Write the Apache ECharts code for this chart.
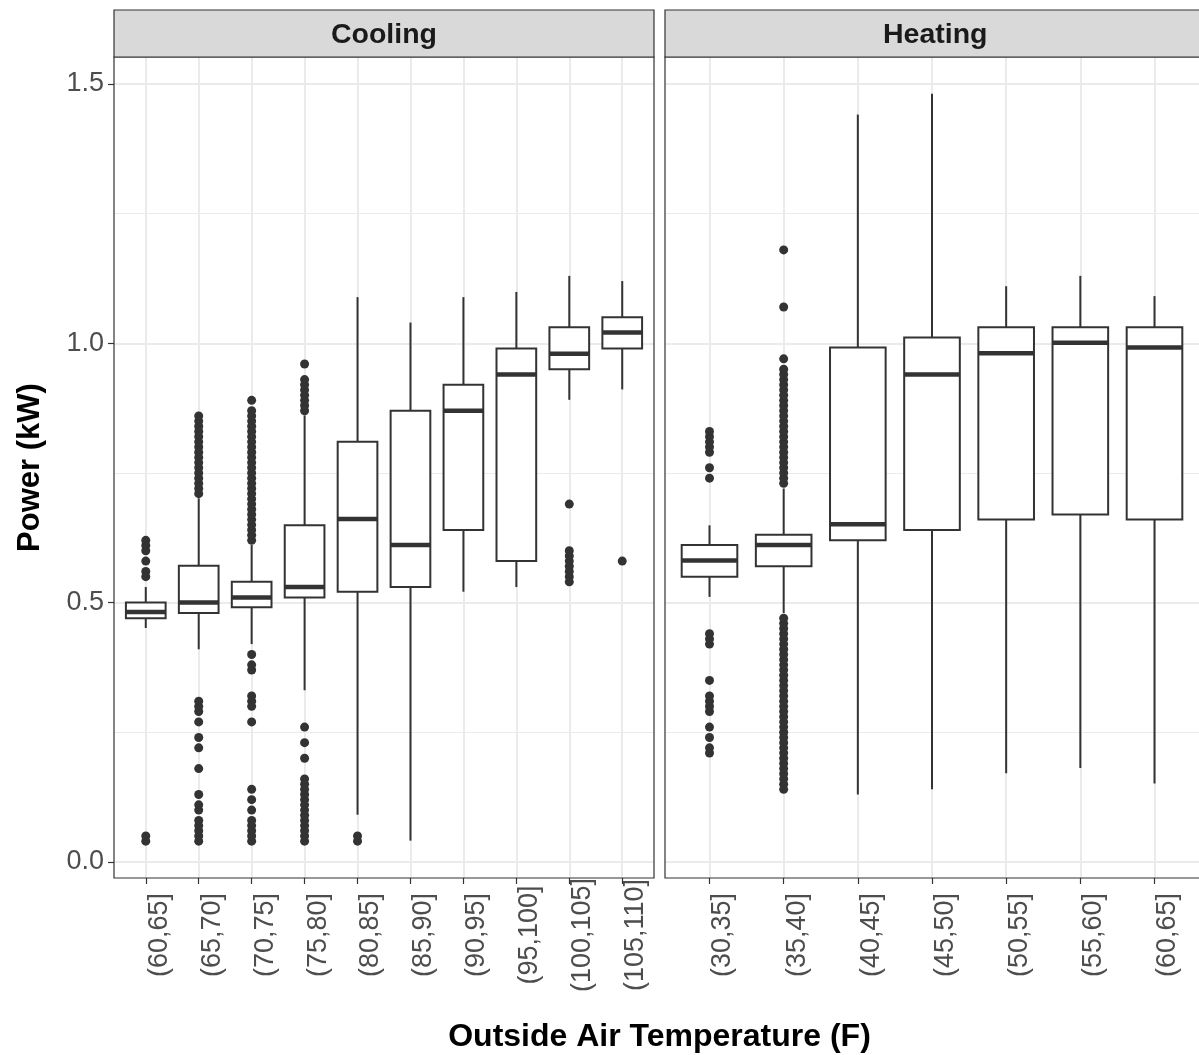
<!DOCTYPE html>
<html><head><meta charset="utf-8">
<script src="https://cdn.jsdelivr.net/npm/echarts@6/dist/echarts.min.js"></script>
<style>html,body{margin:0;padding:0;background:#fff}#c{width:1199px;height:1055px}</style>
</head><body><div id="c"></div>
<script>
const coolingCats = ['(60,65]','(65,70]','(70,75]','(75,80]','(80,85]','(85,90]','(90,95]','(95,100]','(100,105]','(105,110]'];
const heatingCats = ['(30,35]','(35,40]','(40,45]','(45,50]','(50,55]','(55,60]','(60,65]'];
// [lower whisker, Q1, median, Q3, upper whisker]
const coolingBoxes = [
  [0.451, 0.470, 0.482, 0.500, 0.530],
  [0.410, 0.480, 0.500, 0.571, 0.701],
  [0.420, 0.491, 0.510, 0.540, 0.611],
  [0.331, 0.510, 0.530, 0.649, 0.861],
  [0.091, 0.521, 0.661, 0.810, 1.089],
  [0.041, 0.530, 0.611, 0.870, 1.040],
  [0.521, 0.640, 0.870, 0.920, 1.089],
  [0.530, 0.580, 0.940, 0.990, 1.099],
  [0.891, 0.950, 0.980, 1.031, 1.130],
  [0.911, 0.990, 1.021, 1.050, 1.120]
];
const heatingBoxes = [
  [0.511, 0.550, 0.581, 0.611, 0.649],
  [0.480, 0.570, 0.611, 0.631, 0.720],
  [0.130, 0.620, 0.651, 0.992, 1.441],
  [0.140, 0.640, 0.940, 1.011, 1.481],
  [0.171, 0.660, 0.981, 1.031, 1.110],
  [0.181, 0.670, 1.001, 1.031, 1.130],
  [0.151, 0.660, 0.992, 1.031, 1.091]
];
const coolingOutliers = [
  [0.04, 0.05, 0.55, 0.56, 0.58, 0.60, 0.61, 0.62],
  [0.04, 0.05, 0.06, 0.07, 0.08, 0.10, 0.11, 0.13, 0.18, 0.22, 0.24, 0.27, 0.29, 0.30, 0.31,
   0.71, 0.72, 0.73, 0.74, 0.75, 0.76, 0.77, 0.78, 0.79, 0.80, 0.81, 0.82, 0.83, 0.84, 0.85, 0.86],
  [0.04, 0.05, 0.06, 0.07, 0.08, 0.10, 0.12, 0.14, 0.27, 0.30, 0.31, 0.32, 0.37, 0.38, 0.40,
   0.62, 0.63, 0.64, 0.65, 0.66, 0.67, 0.68, 0.69, 0.70, 0.71, 0.72, 0.73, 0.74, 0.75, 0.76,
   0.77, 0.78, 0.79, 0.80, 0.81, 0.82, 0.83, 0.84, 0.85, 0.86, 0.87, 0.89],
  [0.04, 0.05, 0.06, 0.07, 0.08, 0.09, 0.10, 0.11, 0.12, 0.13, 0.14, 0.15, 0.16, 0.20, 0.23, 0.26,
   0.87, 0.88, 0.89, 0.90, 0.91, 0.92, 0.93, 0.96],
  [0.04, 0.05],
  [],
  [],
  [],
  [0.54, 0.55, 0.56, 0.57, 0.58, 0.59, 0.60, 0.69],
  [0.58]
];
const heatingOutliers = [
  [0.21, 0.22, 0.24, 0.26, 0.29, 0.30, 0.31, 0.32, 0.35, 0.42, 0.43, 0.44,
   0.74, 0.76, 0.79, 0.80, 0.81, 0.82, 0.83],
  [0.14, 0.15, 0.16, 0.17, 0.18, 0.19, 0.20, 0.21, 0.22, 0.23, 0.24, 0.25, 0.26, 0.27, 0.28,
   0.29, 0.30, 0.31, 0.32, 0.33, 0.34, 0.35, 0.36, 0.37, 0.38, 0.39, 0.40, 0.41, 0.42, 0.43,
   0.44, 0.45, 0.46, 0.47,
   0.73, 0.74, 0.75, 0.76, 0.77, 0.78, 0.79, 0.80, 0.81, 0.82, 0.83, 0.84, 0.85, 0.86, 0.87,
   0.88, 0.89, 0.90, 0.91, 0.92, 0.93, 0.94, 0.95, 0.97, 1.07, 1.18],
  [], [], [], [], []
];
const yTickValues = [0, 0.5, 1.0, 1.5];
const yMinorValues = [0.25, 0.75, 1.25];
const yMin = -0.031, yMax = 1.552;

const FONT = 'Liberation Sans';
const DARK = '#333333';
const GRID = '#ebebeb';

const panels = [
  {name: 'Cooling', cats: coolingCats, boxes: coolingBoxes, outliers: coolingOutliers, left: 114, width: 540},
  {name: 'Heating', cats: heatingCats, boxes: heatingBoxes, outliers: heatingOutliers, left: 665, width: 540.5}
];
const TOP = 57, HEIGHT = 821;

function renderBox(params, api) {
  const i = api.value(0);
  const pLo = api.coord([i, api.value(1)]);
  const pQ1 = api.coord([i, api.value(2)]);
  const pMed = api.coord([i, api.value(3)]);
  const pQ3 = api.coord([i, api.value(4)]);
  const pHi = api.coord([i, api.value(5)]);
  const w = api.size([1, 0])[0] * 0.75;
  const x = pQ1[0];
  const ls = {stroke: DARK, lineWidth: 2, fill: null};
  return {type: 'group', children: [
    {type: 'line', shape: {x1: x, y1: pHi[1], x2: x, y2: pQ3[1]}, style: ls},
    {type: 'line', shape: {x1: x, y1: pQ1[1], x2: x, y2: pLo[1]}, style: ls},
    {type: 'rect', shape: {x: x - w / 2, y: pQ3[1], width: w, height: pQ1[1] - pQ3[1]},
      style: {stroke: DARK, lineWidth: 2, fill: '#ffffff'}},
    {type: 'line', shape: {x1: x - w / 2, y1: pMed[1], x2: x + w / 2, y2: pMed[1]},
      style: {stroke: DARK, lineWidth: 4.5}}
  ]};
}

const grids = [], xAxes = [], yAxes = [], series = [], graphics = [];
panels.forEach((p, gi) => {
  const n = p.cats.length;
  const idx = p.cats.map((_, i) => i);
  grids.push({left: p.left, top: TOP, width: p.width, height: HEIGHT, show: false, containLabel: false});
  xAxes.push({
    gridIndex: gi, type: 'value', position: 'bottom', min: -0.6, max: n - 1 + 0.6, splitNumber: n,
    axisLine: {show: false, onZero: false},
    axisTick: {show: true, inside: false, customValues: idx, length: 6, lineStyle: {color: DARK, width: 1.2}},
    axisLabel: {show: true, customValues: idx, formatter: v => p.cats[Math.round(v)] || '',
      rotate: 90, align: 'center', verticalAlign: 'top', margin: 57,
      fontSize: 27, color: '#4d4d4d', fontFamily: FONT},
    splitLine: {show: true, lineStyle: {color: GRID, width: 2}}
  });
  yAxes.push({
    gridIndex: gi, type: 'value', position: 'left', min: yMin, max: yMax, splitNumber: 3,
    axisLine: {show: false, onZero: false},
    axisTick: {show: gi === 0, inside: false, customValues: yTickValues, length: 6, lineStyle: {color: DARK, width: 1.2}},
    axisLabel: {show: gi === 0, customValues: yTickValues, formatter: v => v.toFixed(1),
      margin: 10, fontSize: 27, color: '#4d4d4d', fontFamily: FONT},
    splitLine: {show: true, lineStyle: {color: GRID, width: 2}},
    name: gi === 0 ? 'Power (kW)' : '', nameLocation: 'middle', nameGap: 68,
    nameTextStyle: {fontSize: 31, fontWeight: 'bold', color: '#000', fontFamily: FONT}
  });
  series.push({
    type: 'custom', xAxisIndex: gi, yAxisIndex: gi, z: 2,
    renderItem: renderBox,
    encode: {x: 0, y: [1, 2, 3, 4, 5]},
    data: p.boxes.map((b, i) => [i].concat(b)),
    silent: true,
    markLine: {
      z: 1, silent: true, symbol: ['none', 'none'], label: {show: false},
      lineStyle: {color: GRID, width: 1, type: 'solid'},
      emphasis: {disabled: true},
      data: yMinorValues.map(v => ({yAxis: v}))
    }
  });
  const pts = [];
  p.outliers.forEach((arr, i) => arr.forEach(v => pts.push([i, v])));
  series.push({
    type: 'scatter', xAxisIndex: gi, yAxisIndex: gi, z: 3, silent: true,
    symbol: 'circle', symbolSize: 9,
    itemStyle: {color: DARK, opacity: 1},
    data: pts
  });
  graphics.push({type: 'rect', z: 100, shape: {x: p.left, y: TOP, width: p.width, height: HEIGHT},
    style: {fill: 'none', stroke: DARK, lineWidth: 1.2}});
  graphics.push({type: 'rect', z: 100, shape: {x: p.left, y: 10, width: p.width, height: TOP - 10},
    style: {fill: '#d9d9d9', stroke: DARK, lineWidth: 1.2}});
  graphics.push({type: 'text', z: 101, x: p.left + p.width / 2, y: 35.5,
    style: {text: p.name, fontSize: 28.5, fontWeight: 'bold', fontFamily: FONT, fill: '#1a1a1a',
      textAlign: 'center', textVerticalAlign: 'middle'}});
});
graphics.push({type: 'text', z: 101, x: 659.5, y: 1037,
  style: {text: 'Outside Air Temperature (F)', fontSize: 32, fontWeight: 'bold', fontFamily: FONT,
    fill: '#000', textAlign: 'center', textVerticalAlign: 'middle'}});

const chart = echarts.init(document.getElementById('c'), null, {renderer: 'canvas'});
chart.setOption({
  animation: false,
  backgroundColor: '#ffffff',
  grid: grids, xAxis: xAxes, yAxis: yAxes, series: series, graphic: graphics
});
</script></body></html>
